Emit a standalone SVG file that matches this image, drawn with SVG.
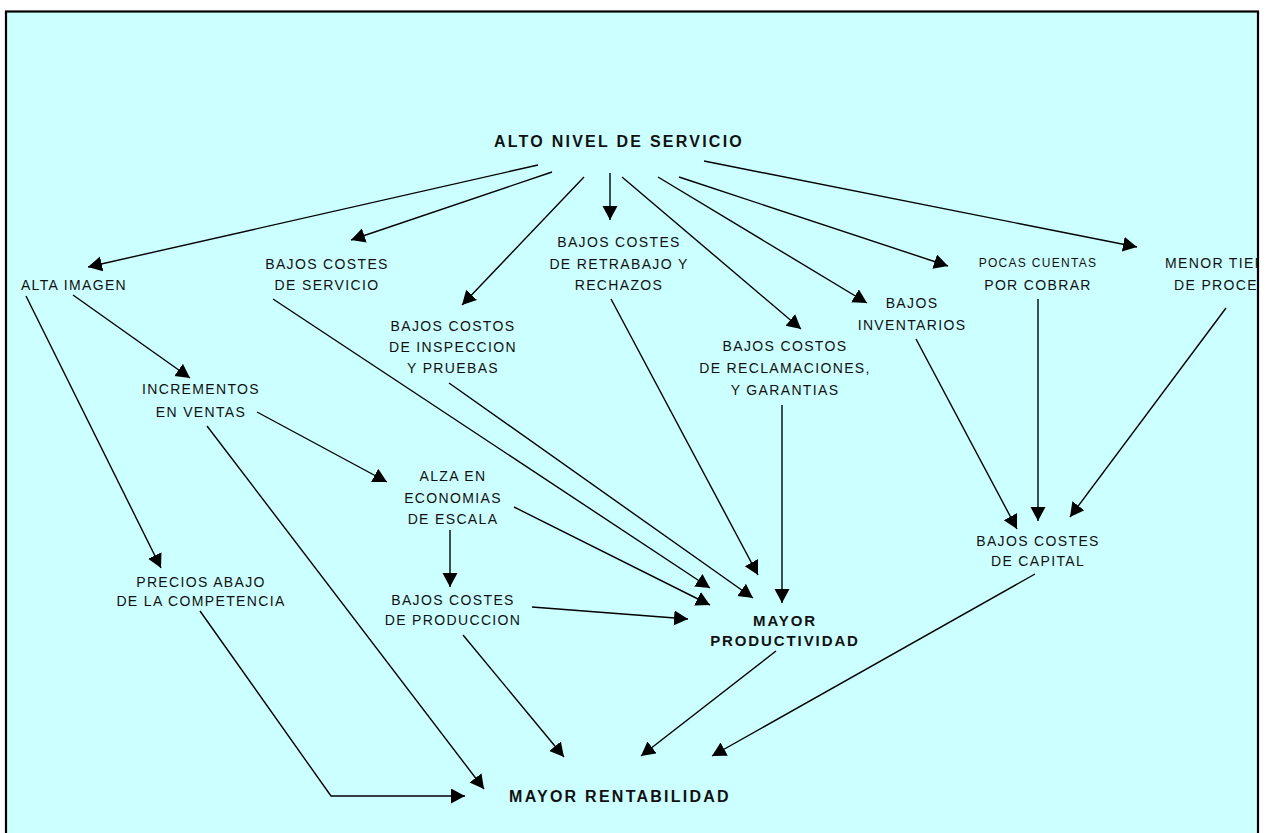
<svg xmlns="http://www.w3.org/2000/svg" width="1267" height="833" viewBox="0 0 1267 833">
<style>
.t{font-family:"Liberation Sans",Arial,sans-serif;font-size:14px;letter-spacing:1.35px;fill:#111;text-anchor:middle}
.s{font-size:12px;letter-spacing:1.3px}
.b{font-weight:bold;font-size:16px;letter-spacing:2.25px}
.bm{font-weight:bold;font-size:15px;letter-spacing:1.9px}
.c{fill:none;stroke:#000;stroke-width:1.4}
</style>
<defs>
<marker id="ah" markerUnits="userSpaceOnUse" markerWidth="16" markerHeight="16" refX="14" refY="7.5" orient="auto">
<path d="M0,0 L14,7.5 L0,15 z" fill="#000"/>
</marker>
<clipPath id="frame"><rect x="6" y="11" width="1252" height="840"/></clipPath>
</defs>
<rect x="0" y="0" width="1267" height="833" fill="#fff"/>
<rect x="6" y="11.5" width="1252" height="840" fill="#ccffff" stroke="#000" stroke-width="2.2"/>
<g id="connectors" class="c" marker-end="url(#ah)">
<line x1="538" y1="165" x2="88" y2="267"/>
<line x1="552" y1="172" x2="351" y2="240"/>
<line x1="584" y1="177" x2="462" y2="305"/>
<line x1="610" y1="173" x2="610" y2="220"/>
<line x1="622" y1="177" x2="801" y2="329"/>
<line x1="658" y1="177" x2="867" y2="303"/>
<line x1="679" y1="177" x2="948" y2="266"/>
<line x1="704" y1="161" x2="1137" y2="247"/>
<line x1="26" y1="296" x2="161" y2="568"/>
<line x1="73" y1="295" x2="190" y2="378"/>
<line x1="257" y1="412" x2="387" y2="482"/>
<line x1="207" y1="426" x2="484" y2="789"/>
<line x1="450" y1="530" x2="450" y2="587"/>
<line x1="514" y1="507" x2="710" y2="605"/>
<line x1="273" y1="299" x2="710" y2="588"/>
<line x1="449" y1="383" x2="753" y2="598"/>
<line x1="611" y1="299" x2="758" y2="575"/>
<line x1="782" y1="405" x2="782" y2="603"/>
<line x1="532" y1="607" x2="688" y2="619"/>
<line x1="916" y1="339" x2="1017" y2="529"/>
<line x1="1038" y1="299" x2="1038" y2="521"/>
<line x1="1226" y1="308" x2="1070" y2="517"/>
<line x1="463" y1="635" x2="564" y2="757"/>
<line x1="776" y1="651" x2="641" y2="756"/>
<line x1="1035" y1="574" x2="712" y2="756"/>
<polyline points="200,611 331,796 465,796"/>
</g>
<g id="n_alto"><text class="t b" x="619" y="147">ALTO NIVEL DE SERVICIO</text></g>
<g id="n_alta_imagen"><text class="t" x="74" y="290">ALTA IMAGEN</text></g>
<g id="n_servicio"><text class="t" x="327" y="269">BAJOS COSTES</text><text class="t" x="327" y="290">DE SERVICIO</text></g>
<g id="n_inspeccion"><text class="t" x="453" y="331">BAJOS COSTOS</text><text class="t" x="453" y="352">DE INSPECCION</text><text class="t" x="453" y="373">Y PRUEBAS</text></g>
<g id="n_retrabajo"><text class="t" x="619" y="247">BAJOS COSTES</text><text class="t" x="619" y="269">DE RETRABAJO Y</text><text class="t" x="619" y="290">RECHAZOS</text></g>
<g id="n_reclamaciones"><text class="t" x="785" y="351">BAJOS COSTOS</text><text class="t" x="785" y="373">DE RECLAMACIONES,</text><text class="t" x="785" y="395">Y GARANTIAS</text></g>
<g id="n_inventarios"><text class="t" x="912" y="308">BAJOS</text><text class="t" x="912" y="330">INVENTARIOS</text></g>
<g id="n_cuentas"><text class="t s" x="1038" y="267">POCAS CUENTAS</text><text class="t" x="1038" y="290">POR COBRAR</text></g>
<g id="n_menor" clip-path="url(#frame)"><text class="t" style="text-anchor:start" x="1165" y="268">MENOR TIEMPO</text><text class="t" style="text-anchor:start" x="1174" y="290">DE PROCESO</text></g>
<g id="n_incrementos"><text class="t" x="201" y="394">INCREMENTOS</text><text class="t" x="201" y="417">EN VENTAS</text></g>
<g id="n_alza"><text class="t" x="453" y="481">ALZA EN</text><text class="t" x="453" y="503">ECONOMIAS</text><text class="t" x="453" y="524">DE ESCALA</text></g>
<g id="n_precios"><text class="t" x="201" y="587">PRECIOS ABAJO</text><text class="t" x="201" y="606">DE LA COMPETENCIA</text></g>
<g id="n_produccion"><text class="t" x="453" y="605">BAJOS COSTES</text><text class="t" x="453" y="625">DE PRODUCCION</text></g>
<g id="n_capital"><text class="t" x="1038" y="546">BAJOS COSTES</text><text class="t" x="1038" y="566">DE CAPITAL</text></g>
<g id="n_productividad"><text class="t bm" x="785" y="626">MAYOR</text><text class="t bm" x="785" y="646">PRODUCTIVIDAD</text></g>
<g id="n_rentabilidad"><text class="t b" x="620" y="802">MAYOR RENTABILIDAD</text></g>
</svg>
